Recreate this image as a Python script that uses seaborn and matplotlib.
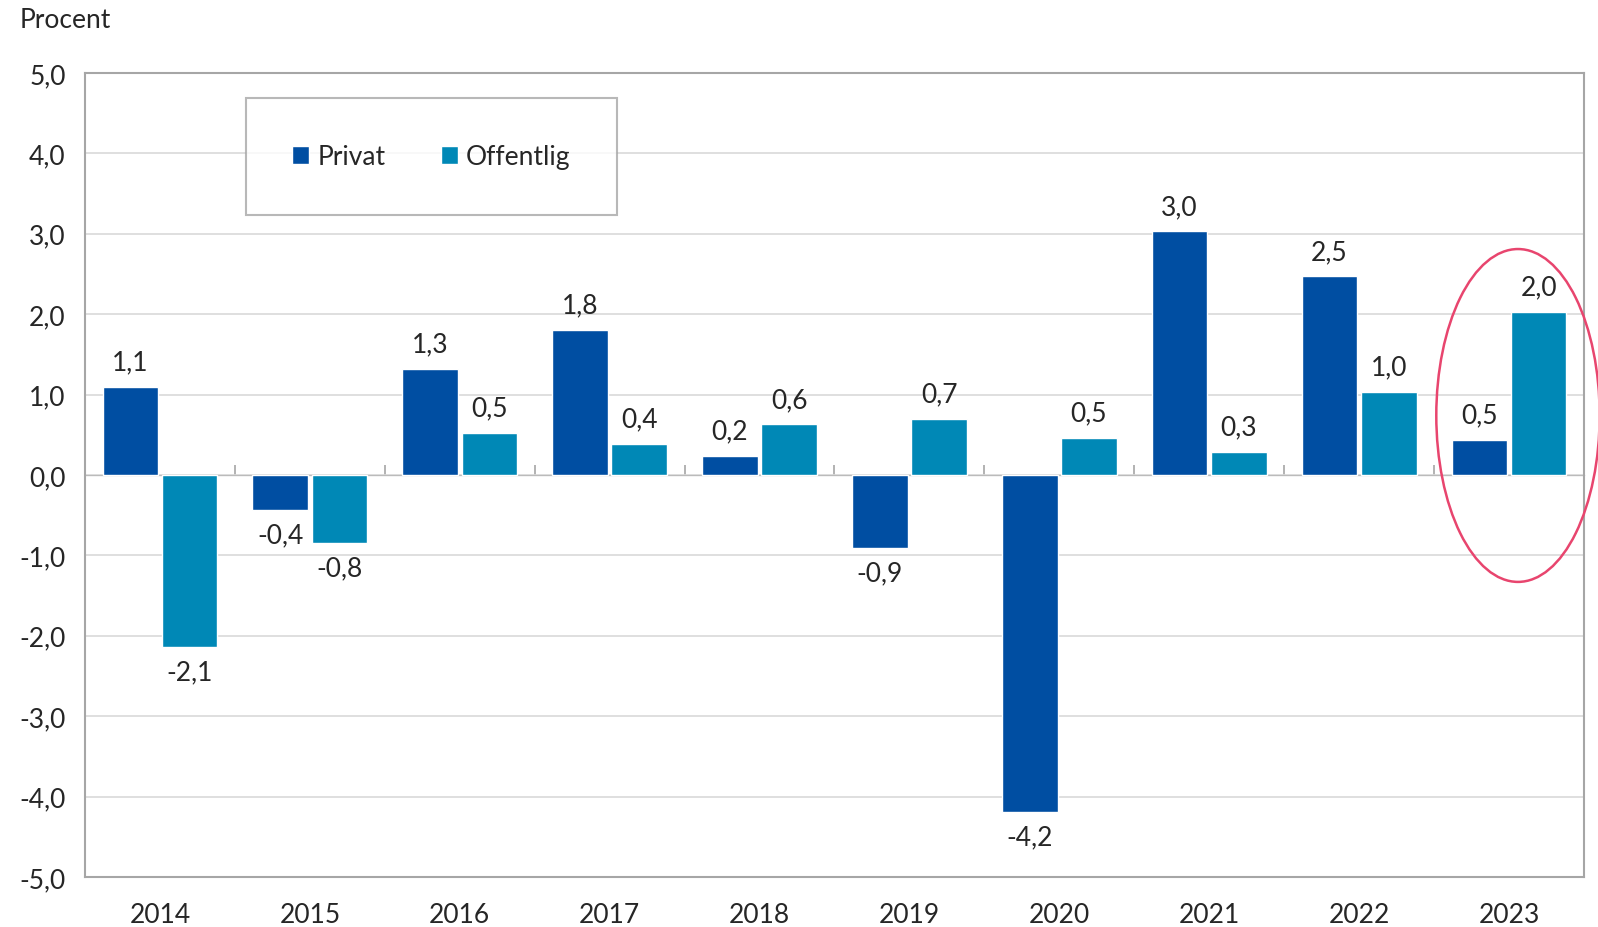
import pandas as pd
import matplotlib.pyplot as plt
import seaborn as sns
from matplotlib.patches import Ellipse

# values
years = ['2014', '2015', '2016', '2017', '2018', '2019', '2020', '2021', '2022', '2023']
privat = [1.10, -0.43, 1.32, 1.80, 0.24, -0.91, -4.19, 3.03, 2.47, 0.44]
offentlig = [-2.14, -0.84, 0.52, 0.39, 0.63, 0.70, 0.46, 0.29, 1.03, 2.03]
privat_labels = ['1,1', '-0,4', '1,3', '1,8', '0,2', '-0,9', '-4,2', '3,0', '2,5', '0,5']
offentlig_labels = ['-2,1', '-0,8', '0,5', '0,4', '0,6', '0,7', '0,5', '0,3', '1,0', '2,0']

df = pd.DataFrame({'year': years * 2,
                   'value': privat + offentlig,
                   'sector': ['Privat'] * len(years) + ['Offentlig'] * len(years)})

sns.set_style("white")
plt.rcParams['font.family'] = ['Lato', 'DejaVu Sans']
grey = '#a6a6a6'
fs = 19

fig = plt.figure(figsize=(15.98, 9.28), dpi=100)
ax = fig.add_axes([0.0532, 0.0539, 0.938, 0.8664])

sns.barplot(data=df, x='year', y='value', hue='sector',
            palette={'Privat': '#004ea2', 'Offentlig': '#0088b6'},
            saturation=1, width=0.79, gap=0.06, ax=ax, zorder=3)

ax.set_ylim(-5, 5)
ax.set_xlim(-0.5, len(years) - 0.5)
ax.set_yticks(range(-5, 6))
ax.set_yticklabels([f'{v},0' for v in range(-5, 6)], fontsize=fs)
ax.yaxis.grid(True, color='#d9d9d9', linewidth=1.2, zorder=0)
ax.set_axisbelow(True)
ax.tick_params(axis='y', length=8, width=1.2, color=grey, direction='out', pad=6)
ax.tick_params(axis='x', length=0, labelsize=fs, pad=18)
for s in ax.spines.values():
    s.set_color(grey)
    s.set_linewidth(1.5)
ax.set_xlabel('')
ax.set_ylabel('')

# category axis at zero with tick marks between categories
sec = ax.secondary_xaxis(0.5)
sec.set_xticks([i + 0.5 for i in range(-1, len(years))])
sec.set_xticklabels([])
sec.tick_params(length=7, width=1.2, color=grey, direction='out')
sec.spines['bottom'].set_color(grey)
sec.spines['bottom'].set_linewidth(1.5)

# data labels
for bars, labels in zip(ax.containers, [privat_labels, offentlig_labels]):
    for rect, lab in zip(bars, labels):
        h = rect.get_height()
        x = rect.get_x() + rect.get_width() / 2
        if h >= 0:
            ax.annotate(lab, (x, h), xytext=(0, 9), textcoords='offset points',
                        ha='center', va='bottom', fontsize=fs)
        else:
            ax.annotate(lab, (x, h), xytext=(0, -9), textcoords='offset points',
                        ha='center', va='top', fontsize=fs)

leg = ax.legend(loc='center', bbox_to_anchor=(0.231, 0.896), ncol=2,
                fontsize=fs, frameon=True, fancybox=False, borderpad=1.75,
                handlelength=0.65, handleheight=0.65, handletextpad=0.3,
                columnspacing=2.1, title=None)
leg.get_frame().set_edgecolor(grey)
leg.get_frame().set_linewidth(1.5)

# highlight 2023
ax.add_patch(Ellipse((9.06, 0.74), 1.09, 4.14, fill=False, edgecolor='#e8456e',
                     linewidth=1.8, clip_on=False, zorder=5))

fig.text(0.012, 0.978, 'Procent', fontsize=fs, ha='left', va='center')

fig.savefig('out.png', dpi=100)
